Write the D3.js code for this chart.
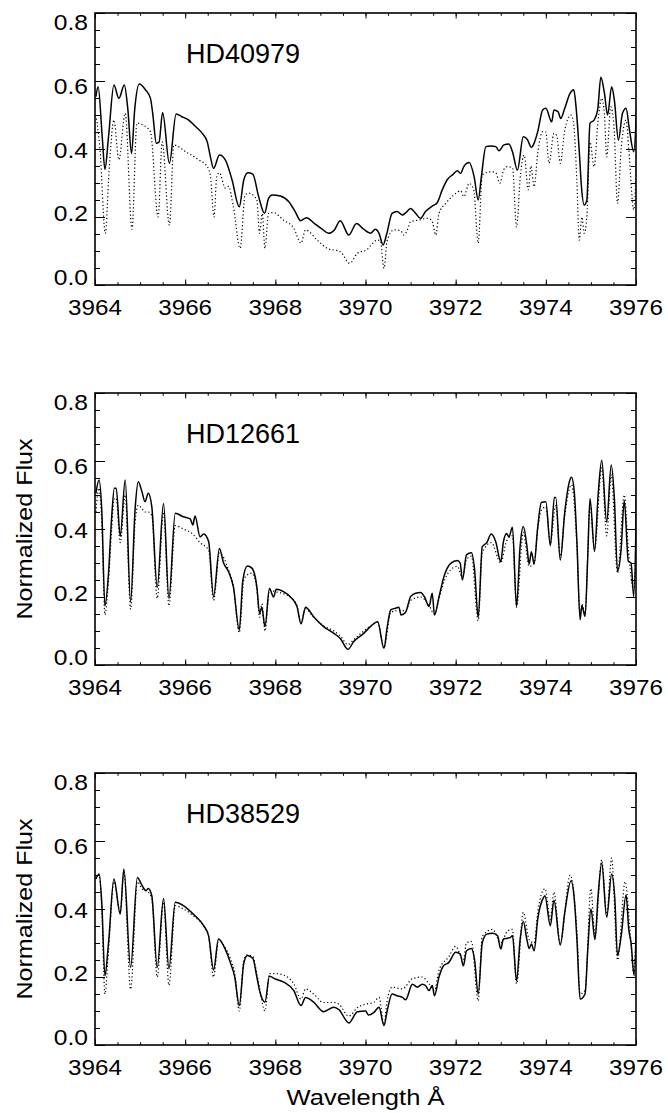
<!DOCTYPE html>
<html>
<head>
<meta charset="utf-8">
<script src="https://cdn.jsdelivr.net/npm/d3@7"></script>
<style>
  body { margin: 0; background: #fff; }
  svg { display: block; }
  text { font-family: "Liberation Sans", Arial, Helvetica, sans-serif; fill: #000; }
</style>
</head>
<body>
<div id="chart"></div>
<script>
// tick values
const xTicks = [3964, 3966, 3968, 3970, 3972, 3974, 3976];
const yTicks = [0.0, 0.2, 0.4, 0.6, 0.8];
const starNames = ["HD40979", "HD12661", "HD38529"];

// [wavelength, normalized flux]
const hd40979Solid = [
  [3964.02,0.554],[3964.07,0.583],[3964.16,0.436],[3964.22,0.34],[3964.30,0.436],[3964.42,0.588],[3964.53,0.549],
  [3964.65,0.588],[3964.73,0.515],[3964.81,0.387],[3964.88,0.515],[3964.98,0.591],[3965.12,0.574],[3965.23,0.549],
  [3965.28,0.505],[3965.36,0.417],[3965.42,0.42],[3965.50,0.507],[3965.65,0.358],[3965.80,0.503],[3965.93,0.495],
  [3966.08,0.485],[3966.23,0.466],[3966.38,0.446],[3966.49,0.421],[3966.56,0.377],[3966.63,0.343],[3966.76,0.382],
  [3966.89,0.368],[3967.04,0.309],[3967.20,0.23],[3967.30,0.309],[3967.39,0.33],[3967.50,0.326],[3967.63,0.26],
  [3967.76,0.211],[3967.85,0.255],[3967.93,0.265],[3968.11,0.262],[3968.30,0.245],[3968.44,0.216],[3968.56,0.189],
  [3968.69,0.198],[3968.85,0.183],[3969.04,0.164],[3969.18,0.152],[3969.31,0.162],[3969.44,0.189],[3969.63,0.147],
  [3969.80,0.181],[3969.96,0.164],[3970.11,0.152],[3970.22,0.164],[3970.30,0.152],[3970.39,0.118],[3970.47,0.15],
  [3970.59,0.211],[3970.70,0.216],[3970.82,0.206],[3970.89,0.212],[3971.00,0.225],[3971.11,0.211],[3971.22,0.196],
  [3971.33,0.216],[3971.48,0.232],[3971.59,0.242],[3971.70,0.279],[3971.82,0.311],[3971.93,0.324],[3972.04,0.336],
  [3972.11,0.328],[3972.18,0.348],[3972.30,0.36],[3972.41,0.318],[3972.50,0.25],[3972.57,0.318],[3972.67,0.407],
  [3972.78,0.409],[3972.89,0.407],[3972.96,0.395],[3973.07,0.412],[3973.18,0.415],[3973.26,0.392],[3973.37,0.338],
  [3973.50,0.436],[3973.59,0.428],[3973.68,0.405],[3973.74,0.417],[3973.82,0.451],[3973.93,0.515],[3974.00,0.52],
  [3974.13,0.48],[3974.18,0.515],[3974.27,0.51],[3974.33,0.49],[3974.42,0.52],[3974.54,0.564],[3974.62,0.574],
  [3974.67,0.524],[3974.74,0.397],[3974.79,0.289],[3974.85,0.235],[3974.91,0.25],[3974.98,0.476],[3975.07,0.485],
  [3975.15,0.515],[3975.22,0.611],[3975.30,0.564],[3975.37,0.5],[3975.46,0.583],[3975.52,0.544],[3975.61,0.426],
  [3975.70,0.505],[3975.78,0.52],[3975.85,0.461],[3975.95,0.392],[3976.02,0.544]
];
const hd40979Dotted = [
  [3964.02,0.50],[3964.11,0.40],[3964.23,0.152],[3964.31,0.33],[3964.42,0.485],[3964.53,0.368],[3964.67,0.505],
  [3964.82,0.164],[3964.93,0.476],[3965.07,0.47],[3965.23,0.451],[3965.40,0.2],[3965.49,0.421],[3965.65,0.176],
  [3965.75,0.412],[3966.01,0.392],[3966.30,0.368],[3966.49,0.348],[3966.56,0.32],[3966.64,0.2],[3966.70,0.318],
  [3966.76,0.33],[3966.89,0.285],[3966.96,0.29],[3967.07,0.23],[3967.22,0.108],[3967.33,0.265],[3967.41,0.27],
  [3967.59,0.25],[3967.65,0.152],[3967.71,0.21],[3967.77,0.108],[3967.85,0.211],[3967.96,0.213],[3968.18,0.191],
  [3968.41,0.167],[3968.57,0.123],[3968.67,0.162],[3968.93,0.132],[3969.15,0.108],[3969.44,0.098],[3969.65,0.064],
  [3969.82,0.093],[3970.04,0.105],[3970.11,0.115],[3970.26,0.132],[3970.33,0.13],[3970.41,0.049],[3970.48,0.13],
  [3970.63,0.162],[3970.78,0.16],[3970.85,0.147],[3970.93,0.162],[3971.00,0.186],[3971.18,0.191],[3971.37,0.196],
  [3971.47,0.19],[3971.56,0.147],[3971.63,0.211],[3971.78,0.24],[3971.96,0.265],[3972.11,0.277],[3972.18,0.26],
  [3972.30,0.299],[3972.40,0.28],[3972.50,0.123],[3972.59,0.324],[3972.78,0.333],[3972.89,0.33],[3972.98,0.299],
  [3973.07,0.34],[3973.15,0.348],[3973.26,0.345],[3973.35,0.171],[3973.44,0.328],[3973.52,0.382],[3973.61,0.28],
  [3973.67,0.35],[3973.74,0.289],[3973.82,0.387],[3973.93,0.451],[3974.00,0.45],[3974.07,0.358],[3974.18,0.446],
  [3974.24,0.44],[3974.32,0.358],[3974.42,0.456],[3974.56,0.5],[3974.62,0.47],[3974.69,0.30],[3974.74,0.132],
  [3974.80,0.2],[3974.85,0.152],[3974.91,0.2],[3974.98,0.42],[3975.07,0.348],[3975.16,0.485],[3975.24,0.549],
  [3975.30,0.50],[3975.35,0.377],[3975.44,0.524],[3975.51,0.47],[3975.59,0.24],[3975.67,0.40],[3975.78,0.485],
  [3975.84,0.40],[3975.95,0.221],[3976.02,0.40]
];

const hd12661Solid = [
  [3964.02,0.505],[3964.09,0.544],[3964.15,0.456],[3964.22,0.174],[3964.30,0.27],[3964.37,0.436],[3964.43,0.52],
  [3964.47,0.52],[3964.56,0.379],[3964.67,0.544],[3964.79,0.186],[3964.89,0.46],[3964.96,0.539],[3965.04,0.51],
  [3965.11,0.48],[3965.18,0.505],[3965.26,0.466],[3965.38,0.228],[3965.52,0.475],[3965.64,0.196],[3965.78,0.446],
  [3965.96,0.436],[3966.11,0.43],[3966.17,0.412],[3966.22,0.438],[3966.33,0.377],[3966.41,0.385],[3966.52,0.363],
  [3966.63,0.201],[3966.76,0.343],[3966.85,0.301],[3966.96,0.275],[3967.07,0.23],[3967.20,0.103],[3967.28,0.25],
  [3967.38,0.291],[3967.48,0.285],[3967.59,0.23],[3967.65,0.152],[3967.70,0.17],[3967.77,0.113],[3967.87,0.225],
  [3967.96,0.20],[3968.02,0.223],[3968.18,0.216],[3968.33,0.201],[3968.48,0.172],[3968.57,0.121],[3968.67,0.17],
  [3968.85,0.142],[3969.07,0.113],[3969.30,0.093],[3969.44,0.078],[3969.61,0.046],[3969.74,0.069],[3969.96,0.093],
  [3970.11,0.113],[3970.27,0.127],[3970.41,0.049],[3970.48,0.11],[3970.56,0.162],[3970.67,0.167],[3970.74,0.17],
  [3970.79,0.147],[3970.89,0.155],[3971.00,0.201],[3971.11,0.211],[3971.22,0.213],[3971.31,0.20],[3971.41,0.172],
  [3971.48,0.211],[3971.53,0.147],[3971.63,0.20],[3971.74,0.26],[3971.89,0.299],[3972.04,0.307],[3972.10,0.30],
  [3972.15,0.25],[3972.24,0.324],[3972.35,0.33],[3972.42,0.28],[3972.50,0.14],[3972.59,0.348],[3972.69,0.36],
  [3972.79,0.385],[3972.89,0.362],[3973.00,0.304],[3973.06,0.363],[3973.13,0.387],[3973.18,0.377],[3973.26,0.405],
  [3973.35,0.172],[3973.43,0.35],[3973.50,0.407],[3973.58,0.35],[3973.63,0.297],[3973.68,0.333],[3973.74,0.297],
  [3973.82,0.405],[3973.90,0.478],[3974.00,0.48],[3974.10,0.351],[3974.19,0.493],[3974.22,0.493],[3974.32,0.309],
  [3974.42,0.45],[3974.52,0.538],[3974.57,0.552],[3974.63,0.51],[3974.69,0.36],[3974.76,0.133],[3974.80,0.174],
  [3974.87,0.143],[3974.93,0.32],[3974.98,0.49],[3975.08,0.334],[3975.16,0.50],[3975.24,0.602],[3975.35,0.42],
  [3975.45,0.588],[3975.52,0.49],[3975.59,0.276],[3975.67,0.34],[3975.74,0.484],[3975.83,0.305],[3975.89,0.30],
  [3975.95,0.201],[3976.02,0.578]
];
const hd12661Dotted = [
  [3964.02,0.45],[3964.09,0.52],[3964.15,0.42],[3964.22,0.148],[3964.30,0.25],[3964.37,0.40],[3964.43,0.49],
  [3964.47,0.49],[3964.56,0.36],[3964.67,0.50],[3964.79,0.164],[3964.89,0.42],[3964.96,0.47],[3965.04,0.46],
  [3965.11,0.45],[3965.18,0.45],[3965.26,0.44],[3965.38,0.196],[3965.52,0.45],[3965.64,0.174],[3965.78,0.41],
  [3965.96,0.40],[3966.17,0.385],[3966.33,0.36],[3966.52,0.338],[3966.63,0.19],[3966.76,0.33],[3966.96,0.28],
  [3967.07,0.23],[3967.20,0.095],[3967.30,0.25],[3967.38,0.265],[3967.48,0.27],[3967.59,0.225],[3967.65,0.14],
  [3967.70,0.18],[3967.77,0.10],[3967.87,0.22],[3968.02,0.215],[3968.18,0.21],[3968.33,0.20],[3968.48,0.175],
  [3968.57,0.125],[3968.67,0.165],[3968.85,0.14],[3969.07,0.115],[3969.30,0.10],[3969.44,0.085],[3969.61,0.06],
  [3969.74,0.075],[3969.96,0.10],[3970.11,0.115],[3970.27,0.125],[3970.41,0.05],[3970.56,0.155],[3970.74,0.16],
  [3970.89,0.16],[3971.00,0.19],[3971.22,0.20],[3971.41,0.175],[3971.53,0.15],[3971.63,0.195],[3971.74,0.245],
  [3971.89,0.28],[3972.04,0.29],[3972.15,0.255],[3972.24,0.31],[3972.35,0.32],[3972.50,0.13],[3972.59,0.33],
  [3972.79,0.36],[3973.00,0.30],[3973.13,0.365],[3973.26,0.38],[3973.35,0.17],[3973.50,0.39],[3973.63,0.29],
  [3973.74,0.30],[3973.82,0.40],[3973.90,0.455],[3974.00,0.465],[3974.10,0.36],[3974.22,0.47],[3974.32,0.32],
  [3974.42,0.44],[3974.57,0.53],[3974.69,0.35],[3974.76,0.15],[3974.80,0.18],[3974.87,0.15],[3974.98,0.47],
  [3975.08,0.34],[3975.24,0.58],[3975.35,0.38],[3975.45,0.56],[3975.59,0.27],[3975.74,0.50],[3975.83,0.34],
  [3975.95,0.22],[3976.02,0.45]
];

const hd38529Solid = [
  [3964.02,0.488],[3964.09,0.503],[3964.15,0.42],[3964.22,0.204],[3964.30,0.30],[3964.42,0.488],[3964.56,0.385],
  [3964.64,0.518],[3964.79,0.228],[3964.94,0.493],[3965.04,0.47],[3965.13,0.454],[3965.18,0.46],[3965.26,0.439],
  [3965.38,0.228],[3965.52,0.431],[3965.64,0.224],[3965.78,0.42],[3965.96,0.41],[3966.18,0.385],[3966.41,0.351],
  [3966.52,0.321],[3966.63,0.221],[3966.74,0.312],[3966.87,0.287],[3967.00,0.243],[3967.10,0.20],[3967.20,0.116],
  [3967.30,0.24],[3967.38,0.263],[3967.50,0.255],[3967.59,0.20],[3967.66,0.155],[3967.77,0.126],[3967.87,0.202],
  [3968.00,0.194],[3968.19,0.185],[3968.41,0.16],[3968.57,0.116],[3968.67,0.14],[3968.85,0.126],[3969.07,0.098],
  [3969.30,0.111],[3969.41,0.104],[3969.63,0.065],[3969.82,0.098],[3970.00,0.10],[3970.07,0.088],[3970.18,0.095],
  [3970.30,0.111],[3970.41,0.057],[3970.48,0.10],[3970.59,0.15],[3970.70,0.145],[3970.82,0.14],[3970.89,0.133],
  [3971.04,0.179],[3971.15,0.17],[3971.26,0.179],[3971.33,0.175],[3971.41,0.16],[3971.48,0.175],[3971.53,0.145],
  [3971.63,0.20],[3971.73,0.233],[3971.85,0.243],[3972.00,0.273],[3972.10,0.268],[3972.17,0.233],[3972.24,0.277],
  [3972.35,0.284],[3972.42,0.25],[3972.50,0.15],[3972.59,0.30],[3972.69,0.326],[3972.82,0.329],[3972.93,0.321],
  [3973.00,0.282],[3973.06,0.312],[3973.15,0.314],[3973.21,0.316],[3973.26,0.321],[3973.35,0.189],[3973.43,0.31],
  [3973.50,0.363],[3973.58,0.31],[3973.63,0.284],[3973.68,0.297],[3973.74,0.277],[3973.82,0.37],[3973.95,0.434],
  [3973.98,0.439],[3974.10,0.351],[3974.18,0.426],[3974.32,0.294],[3974.42,0.39],[3974.56,0.483],[3974.63,0.43],
  [3974.69,0.31],[3974.76,0.135],[3974.87,0.15],[3974.93,0.28],[3975.00,0.40],[3975.09,0.31],[3975.16,0.44],
  [3975.24,0.535],[3975.35,0.376],[3975.46,0.503],[3975.53,0.43],[3975.59,0.263],[3975.67,0.32],[3975.78,0.441],
  [3975.84,0.34],[3975.89,0.30],[3975.96,0.204],[3976.02,0.459]
];
const hd38529Dotted = [
  [3964.02,0.49],[3964.09,0.50],[3964.15,0.40],[3964.22,0.15],[3964.30,0.28],[3964.42,0.48],[3964.56,0.39],
  [3964.64,0.51],[3964.79,0.164],[3964.94,0.48],[3965.04,0.46],[3965.18,0.45],[3965.26,0.43],[3965.38,0.20],
  [3965.52,0.42],[3965.64,0.176],[3965.78,0.41],[3965.96,0.40],[3966.18,0.38],[3966.41,0.35],[3966.52,0.32],
  [3966.63,0.20],[3966.74,0.31],[3966.87,0.29],[3967.00,0.255],[3967.10,0.21],[3967.20,0.10],[3967.30,0.25],
  [3967.38,0.265],[3967.50,0.26],[3967.59,0.21],[3967.66,0.16],[3967.77,0.10],[3967.87,0.21],[3968.00,0.21],
  [3968.19,0.205],[3968.41,0.18],[3968.57,0.135],[3968.67,0.165],[3968.85,0.15],[3969.07,0.125],[3969.30,0.125],
  [3969.41,0.12],[3969.63,0.085],[3969.82,0.11],[3970.00,0.12],[3970.18,0.125],[3970.30,0.14],[3970.41,0.06],
  [3970.48,0.13],[3970.59,0.17],[3970.82,0.165],[3971.04,0.195],[3971.26,0.20],[3971.41,0.18],[3971.53,0.16],
  [3971.63,0.22],[3971.85,0.26],[3972.00,0.29],[3972.17,0.25],[3972.24,0.30],[3972.35,0.305],[3972.50,0.13],
  [3972.59,0.32],[3972.82,0.34],[3973.00,0.30],[3973.15,0.335],[3973.26,0.34],[3973.35,0.18],[3973.50,0.39],
  [3973.63,0.31],[3973.74,0.30],[3973.82,0.39],[3973.98,0.46],[3974.10,0.37],[3974.18,0.45],[3974.32,0.30],
  [3974.54,0.50],[3974.69,0.33],[3974.76,0.15],[3974.87,0.16],[3975.00,0.46],[3975.09,0.32],[3975.24,0.545],
  [3975.35,0.38],[3975.46,0.55],[3975.59,0.25],[3975.76,0.48],[3975.87,0.33],[3975.95,0.21],[3976.02,0.40]
];

const solidSeries = [hd40979Solid, hd12661Solid, hd38529Solid];
const dottedSeries = [hd40979Dotted, hd12661Dotted, hd38529Dotted];

const width = 668, height = 1113;
const plotLeft = 95, plotRight = 636;
const panelTops = [13, 393, 773];
const panelH = 272;

const svg = d3.select("#chart").append("svg")
    .attr("width", width)
    .attr("height", height);

const x = d3.scaleLinear().domain([3964, 3976]).range([plotLeft, plotRight]);
const xMinor = d3.range(3964, 3976.01, 0.5);
const yMinor = d3.range(0, 0.801, 0.05);

// the original lettering is a little wider than Liberation Sans
function wideText(sel, tx, ty, size, stretch, str) {
    return sel.append("text")
        .attr("transform", `translate(${tx},${ty}) scale(${stretch},1)`)
        .attr("font-size", size + "px")
        .text(str);
}

starNames.forEach(function (name, i) {
    const top = panelTops[i], bottom = top + panelH;
    const y = d3.scaleLinear().domain([0, 0.8]).range([bottom, top]);
    // labels sit a bit inside the ends of the axis, like in the original
    const yLab = d3.scaleLinear().domain([0, 0.8]).range([bottom - 8, top + 9]);

    const g = svg.append("g");

    g.append("clipPath").attr("id", "clip" + i)
        .append("rect")
        .attr("x", plotLeft).attr("y", top)
        .attr("width", plotRight - plotLeft).attr("height", panelH);

    const line = d3.line()
        .x(d => x(d[0]))
        .y(d => y(d[1]))
        .curve(d3.curveMonotoneX);

    g.append("path")
        .datum(dottedSeries[i])
        .attr("clip-path", "url(#clip" + i + ")")
        .attr("fill", "none")
        .attr("stroke", "#000")
        .attr("stroke-width", 1.2)
        .attr("stroke-dasharray", "1.2,2.4")
        .attr("d", line);

    g.append("path")
        .datum(solidSeries[i])
        .attr("clip-path", "url(#clip" + i + ")")
        .attr("fill", "none")
        .attr("stroke", "#000")
        .attr("stroke-width", 1.5)
        .attr("stroke-linejoin", "round")
        .attr("d", line);

    // inward ticks on all four sides
    function addAxis(axis, tx, ty) {
        g.append("g")
            .attr("transform", `translate(${tx},${ty})`)
            .call(axis)
            .call(a => a.select(".domain").remove())
            .call(a => a.selectAll("line").attr("stroke", "#000").attr("stroke-width", 1));
    }
    addAxis(d3.axisBottom(x).tickValues(xMinor).tickSize(-2.8).tickFormat(""), 0, bottom);
    addAxis(d3.axisBottom(x).tickValues(xTicks).tickSize(-5.5).tickFormat(""), 0, bottom);
    addAxis(d3.axisTop(x).tickValues(xMinor).tickSize(-2.8).tickFormat(""), 0, top);
    addAxis(d3.axisTop(x).tickValues(xTicks).tickSize(-5.5).tickFormat(""), 0, top);
    addAxis(d3.axisLeft(y).tickValues(yMinor).tickSize(-5).tickFormat(""), plotLeft, 0);
    addAxis(d3.axisLeft(y).tickValues(yTicks).tickSize(-10).tickFormat(""), plotLeft, 0);
    addAxis(d3.axisRight(y).tickValues(yMinor).tickSize(-5).tickFormat(""), plotRight, 0);
    addAxis(d3.axisRight(y).tickValues(yTicks).tickSize(-10).tickFormat(""), plotRight, 0);

    g.append("rect")
        .attr("x", plotLeft).attr("y", top)
        .attr("width", plotRight - plotLeft).attr("height", panelH)
        .attr("fill", "none")
        .attr("stroke", "#000")
        .attr("stroke-width", 1.6);

    // tick labels
    xTicks.forEach(function (v) {
        wideText(g, x(v), bottom + 30, 22, 1.1, v).attr("text-anchor", "middle");
    });
    yTicks.forEach(function (v) {
        wideText(g, plotLeft - 7, yLab(v) + 8, 22, 1.12, d3.format(".1f")(v)).attr("text-anchor", "end");
    });

    g.append("text")
        .attr("x", plotLeft + 91)
        .attr("y", top + 50)
        .attr("font-size", "27px")
        .text(name);

    if (i > 0) {
        g.append("text")
            .attr("transform", `translate(32,${(top + bottom) / 2}) rotate(-90) scale(1.14,1)`)
            .attr("text-anchor", "middle")
            .attr("font-size", "22px")
            .text("Normalized Flux");
    }
});

wideText(svg, (plotLeft + plotRight) / 2, 1105, 22, 1.16, "Wavelength Å")
    .attr("text-anchor", "middle");
</script>
</body>
</html>
